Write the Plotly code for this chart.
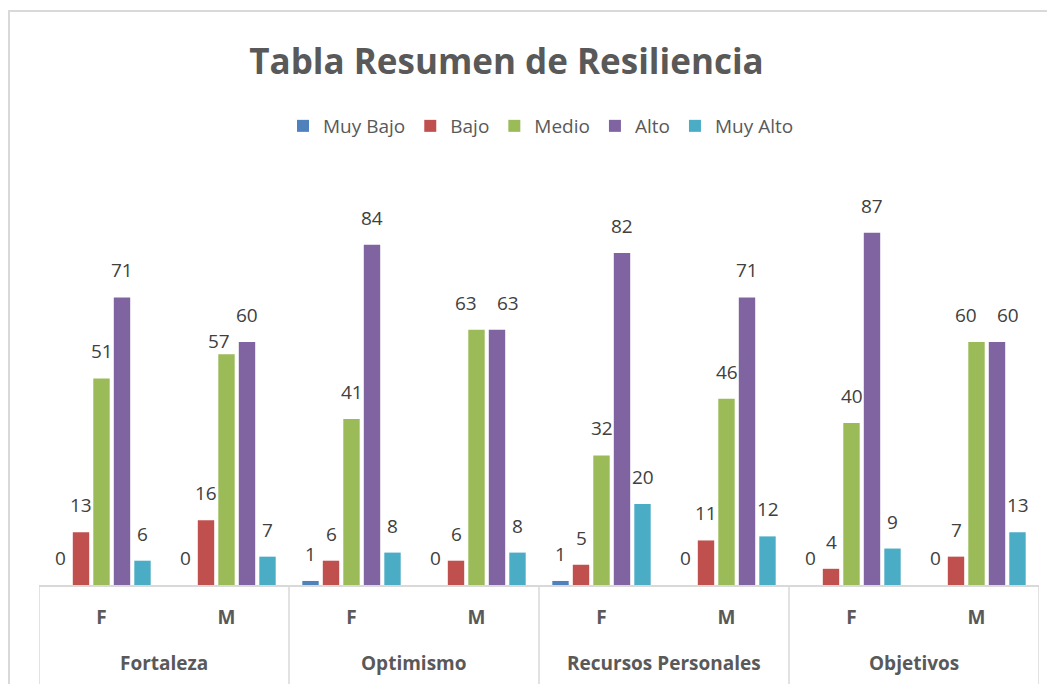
import plotly.graph_objects as go

groups = ["Fortaleza", "Optimismo", "Recursos Personales", "Objetivos"]
sexes = ["F", "M", "F", "M", "F", "M", "F", "M"]
group_of_bar = [0, 0, 1, 1, 2, 2, 3, 3]

series_names = ["Muy Bajo", "Bajo", "Medio", "Alto", "Muy Alto"]
muy_bajo = [0, 0, 1, 0, 1, 0, 0, 0]
bajo = [13, 16, 6, 6, 5, 11, 4, 7]
medio = [51, 57, 41, 63, 32, 46, 40, 60]
alto = [71, 60, 84, 63, 82, 71, 87, 60]
muy_alto = [6, 7, 8, 8, 20, 12, 9, 13]

colors = ["#4F81BD", "#C0504D", "#9BBB59", "#8064A2", "#4BACC6"]
values = [muy_bajo, bajo, medio, alto, muy_alto]

font_family = "Open Sans, Liberation Sans, sans-serif"

# page body has an 8px margin; figure sized to fill the remaining window
OFF = 8
W, H = 1055 - OFF, 684 - OFF
L, R = 39 - OFF, W - (1039 - OFF)
T, B = 170 - OFF, H - (585 - OFF)
PLOT_H = H - T - B
PX_PER_UNIT = 4.05

BARGAP, GROUPGAP = 0.18, 0.2
n_series = len(series_names)
slot = (1 - BARGAP) / n_series
LABEL_SHIFT = 12

xpos = list(range(len(sexes)))

# simple label collision avoidance for adjacent labels within a category
shift_x = [[0] * len(xpos) for _ in range(n_series)]
shift_y = [[LABEL_SHIFT] * len(xpos) for _ in range(n_series)]
for i in range(len(xpos)):
    for j in range(n_series - 1):
        a, b = values[j][i], values[j + 1][i]
        if abs(a - b) * PX_PER_UNIT < 18 and max(a, b) > 20:
            if a == b:
                shift_x[j][i] -= 11
                shift_x[j + 1][i] += 11
            elif a < b:
                shift_x[j][i] -= 8
                shift_y[j][i] -= 14
            else:
                shift_x[j + 1][i] += 8
                shift_y[j + 1][i] -= 14

fig = go.Figure()
annotations = []
for j, (name, vals, col) in enumerate(zip(series_names, values, colors)):
    fig.add_trace(go.Bar(
        x=xpos, y=vals, name=name,
        marker=dict(color=col, line=dict(width=0)),
        hoverinfo="y+name",
    ))
    off = (j - (n_series - 1) / 2) * slot
    for i, v in enumerate(vals):
        annotations.append(dict(
            x=xpos[i] + off, y=v, xref="x", yref="y", text=str(v),
            showarrow=False, yanchor="bottom", xanchor="center",
            xshift=shift_x[j][i], yshift=shift_y[j][i],
            font=dict(family=font_family, size=19, color="#404040"),
        ))

# group labels
for g_idx, g in enumerate(groups):
    members = [xpos[i] for i in range(len(xpos)) if group_of_bar[i] == g_idx]
    annotations.append(dict(
        x=sum(members) / len(members), y=-(663 - 585) / PLOT_H,
        xref="x", yref="paper", text=g, showarrow=False,
        xanchor="center", yanchor="middle",
        font=dict(family=font_family, size=19, color="#595959", weight="bold"),
    ))

shapes = [dict(type="rect", xref="paper", yref="paper",
               x0=(9 - 39) / 1000, x1=(1075 - 39) / 1000,
               y0=-1, y1=(585 - 11) / PLOT_H,
               line=dict(color="#D9D9D9", width=2), layer="below")]
bounds = [-0.5] + [i + 0.5 for i in range(len(xpos) - 1)
                   if group_of_bar[i] != group_of_bar[i + 1]] + [len(xpos) - 0.5]
for bx in bounds:
    shapes.append(dict(type="line", xref="x", yref="paper",
                       x0=bx, x1=bx, y0=0, y1=-(B + 20) / PLOT_H,
                       line=dict(color="#D9D9D9", width=1.5)))

fig.update_layout(
    width=W, height=H,
    barmode="group", bargap=BARGAP, bargroupgap=GROUPGAP,
    paper_bgcolor="white", plot_bgcolor="white",
    margin=dict(l=L, r=R, t=T, b=B, autoexpand=False),
    title=dict(text="<b>Tabla Resumen de Resiliencia</b>",
               font=dict(family=font_family, size=35, color="#595959"),
               x=(506.5 - OFF) / W, xanchor="center", xref="container",
               y=1 - (62 - OFF) / H, yanchor="middle", yref="container"),
    legend=dict(orientation="h", x=(541 - 39) / 1000, xanchor="center",
                y=1 - (126 - OFF) / H, yanchor="middle", yref="container",
                font=dict(family=font_family, size=19, color="#595959"),
                traceorder="normal"),
    xaxis=dict(range=[-0.5, len(xpos) - 0.5], tickvals=xpos, ticktext=sexes,
               showline=True, linecolor="#D9D9D9", linewidth=1.5,
               showgrid=False, zeroline=False, ticks="",
               ticklabelstandoff=14,
               tickfont=dict(family=font_family, size=19, color="#595959", weight="bold"),
               automargin=False, fixedrange=True),
    yaxis=dict(range=[0, PLOT_H / PX_PER_UNIT], visible=False, showgrid=False,
               fixedrange=True),
    shapes=shapes,
    annotations=annotations,
)

fig.write_html("out.html")
